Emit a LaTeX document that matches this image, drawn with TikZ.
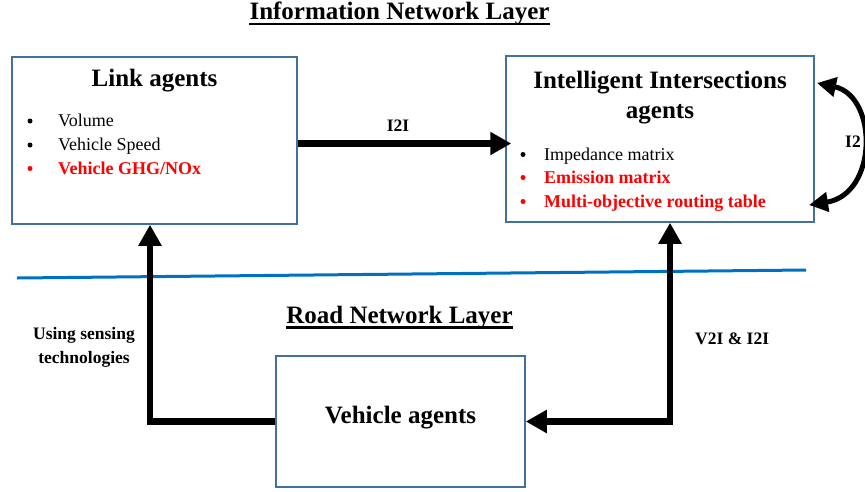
\documentclass[tikz,border=0pt]{standalone}
\usepackage{fontspec}
\setmainfont{Liberation Serif}
\usetikzlibrary{arrows.meta,calc}
\definecolor{boxblue}{RGB}{65,113,156}
\definecolor{lineblue}{RGB}{0,112,192}
\definecolor{txtred}{RGB}{255,0,0}
\tikzset{
  bigtip/.tip={Triangle[length=21pt,width=22pt]},
  curvtip/.tip={Triangle[length=19pt,width=19pt]},
}
\begin{document}
\begin{tikzpicture}[x=1pt,y=-1pt,
  agentbox/.style={draw=boxblue,line width=1.5pt,inner sep=0pt},
  ttl/.style={font=\fontsize{25}{30}\selectfont\bfseries,anchor=base,inner sep=0pt},
  item/.style={font=\fontsize{18}{21}\selectfont,anchor=base west,inner sep=0pt},
  reditem/.style={font=\fontsize{18}{21}\selectfont\bfseries,text=txtred,anchor=base west,inner sep=0pt},
  bul/.style={circle,fill=black,inner sep=0pt,minimum size=5pt},
  redbul/.style={bul,fill=txtred},
  lbl/.style={font=\fontsize{17.5}{24}\selectfont\bfseries,inner sep=0pt,anchor=base},
  conn/.style={line width=6.5pt},
]
\useasboundingbox (0,0) rectangle (865,491);

% headers
\node[ttl] (hinfo) at (399.5,19.5) {Information Network Layer};
\draw[line width=2.5pt] ($(hinfo.base west)+(0,4.5)$) -- ($(hinfo.base east)+(0,4.5)$);
\node[ttl] (hroad) at (399.5,323) {Road Network Layer};
\draw[line width=2.5pt] ($(hroad.base west)+(0,4.5)$) -- ($(hroad.base east)+(0,4.5)$);

% separator
\draw[lineblue,line width=3pt] (17,278) -- (806,270);

% boxes
\node[agentbox,minimum width=285pt,minimum height=167pt] (link) at (154.5,140.5) {};
\node[agentbox,minimum width=308pt,minimum height=166pt] (ii) at (660,139) {};
\node[agentbox,minimum width=249pt,minimum height=131pt] (veh) at (400.5,421.5) {};

% link agents content
\node[ttl] (linkt) at (154.5,86) {Link agents};
\node[bul] (lb1) at (30,121) {};
\node[item] (l1) at (58,126.5) {Volume};
\node[bul] (lb2) at (30,145) {};
\node[item] (l2) at (58,150.5) {Vehicle Speed};
\node[redbul] (lb3) at (30,168.5) {};
\node[reditem] (l3) at (58,174) {Vehicle GHG/NOx};

% intelligent intersections content
\node[ttl] (iit1) at (660,88) {Intelligent Intersections};
\node[ttl] (iit2) at (660,118) {agents};
\node[bul] (ib1) at (523,154.5) {};
\node[item] (i1) at (544,160) {Impedance matrix};
\node[redbul] (ib2) at (523,177.5) {};
\node[reditem] (i2) at (544,183) {Emission matrix};
\node[redbul] (ib3) at (523,201.5) {};
\node[reditem] (i3) at (544,207) {Multi-objective routing table};

% vehicle agents
\node[ttl] (veht) at (400.5,423) {Vehicle agents};

% connectors
\coordinate (i2iy) at (0,143.5);
\coordinate (lx) at (150,0);
\coordinate (rx) at (670,0);
\draw[conn,-{bigtip}] (link.east |- i2iy) -- ($(ii.west |- i2iy)+(6,0)$);
\node[lbl] (i2ilbl) at (398,131) {I2I};

\draw[conn,-{bigtip}] (veh.west) -| (link.south -| lx);
\draw[conn,{bigtip}-{bigtip}] (ii.south -| rx) |- (veh.east);

\coordinate (ctop) at (817,83);
\coordinate (cbot) at (809,205);
\draw[line width=5pt,{curvtip}-{curvtip}] (ctop) .. controls (878,96) and (878,194) .. (cbot);
\node[lbl,anchor=base west] (i2lbl) at (845,147) {I2};

\node[lbl] (us1) at (84,339) {Using sensing};
\node[lbl] (us2) at (84,363) {technologies};
\node[lbl,anchor=base west] (v2i) at (695,344) {V2I \& I2I};
\end{tikzpicture}
\end{document}
